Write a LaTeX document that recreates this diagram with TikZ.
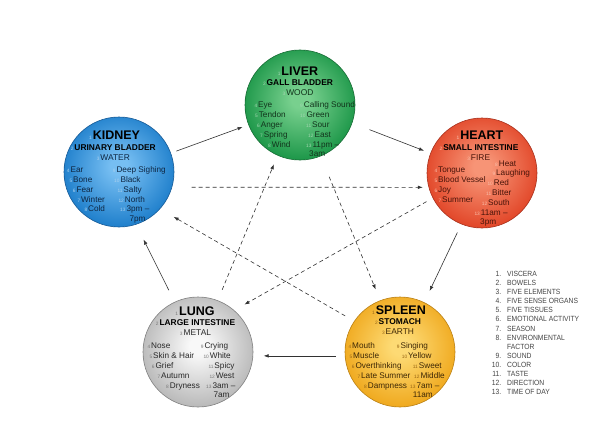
\documentclass[tikz,border=0pt]{standalone}
\usepackage{fontspec}
\setmainfont{Liberation Sans}
\newfontfamily\legendfont[FakeStretch=0.9]{Liberation Sans}
\usetikzlibrary{arrows.meta}

\definecolor{liverin}{RGB}{120,208,142}
\definecolor{liverout}{RGB}{30,152,74}
\definecolor{liverline}{RGB}{22,108,52}
\definecolor{livernum}{RGB}{165,215,178}
\definecolor{liveritem}{RGB}{18,52,28}
\definecolor{kidneyin}{RGB}{118,190,242}
\definecolor{kidneyout}{RGB}{32,128,204}
\definecolor{kidneyline}{RGB}{22,90,150}
\definecolor{kidneynum}{RGB}{170,208,238}
\definecolor{kidneyitem}{RGB}{14,38,66}
\definecolor{heartin}{RGB}{247,148,118}
\definecolor{heartout}{RGB}{226,72,42}
\definecolor{heartline}{RGB}{168,48,28}
\definecolor{heartnum}{RGB}{250,192,172}
\definecolor{heartitem}{RGB}{72,20,10}
\definecolor{lungin}{RGB}{248,248,248}
\definecolor{lungout}{RGB}{186,186,186}
\definecolor{lungline}{RGB}{128,128,128}
\definecolor{lungnum}{RGB}{120,120,120}
\definecolor{lungitem}{RGB}{40,40,40}
\definecolor{spleenin}{RGB}{253,218,116}
\definecolor{spleenout}{RGB}{240,170,32}
\definecolor{spleenline}{RGB}{186,128,20}
\definecolor{spleennum}{RGB}{150,100,20}
\definecolor{spleenitem}{RGB}{62,40,6}
\definecolor{arrowc}{RGB}{50,50,50}
\definecolor{keyc}{RGB}{70,70,70}

\colorlet{sphin}{white}
\colorlet{sphout}{gray}
\colorlet{numc}{gray}
\colorlet{itemc}{black}
\pgfdeclareradialshading[sphin,sphout]{softball}{\pgfpoint{0bp}{3bp}}{%
  color(0bp)=(sphin); color(4bp)=(sphin); color(26bp)=(sphout); color(50bp)=(sphout)}

\newcommand{\nr}[1]{{\fontsize{4.8}{5}\selectfont\mdseries\textcolor{numc}{#1}}\hspace{1pt}}

\begin{document}
\begin{tikzpicture}[x=1pt,y=-1pt,
    organ/.style={circle, minimum size=110pt, inner sep=0pt, line width=0.6pt,
      draw=#1line, shade, shading=softball,
      /utils/exec={\colorlet{sphin}{#1in}\colorlet{sphout}{#1out}}},
    orgtitle/.style={anchor=base, inner sep=0pt, font=\fontsize{12.5}{14}\selectfont\bfseries},
    orgsub/.style={anchor=base, inner sep=0pt, font=\fontsize{8.4}{10}\selectfont\bfseries},
    orgelem/.style={anchor=base, inner sep=0pt, text=itemc, font=\fontsize{8.4}{10}\selectfont},
    orgitem/.style={anchor=base west, inner sep=0pt, text=itemc, font=\fontsize{8.2}{10}\selectfont},
    keyline/.style={anchor=base west, inner sep=0pt, text=keyc, font=\legendfont\fontsize{7.5}{9}\selectfont},
    gen/.style={draw=arrowc, line width=0.6pt, -{Latex[length=5pt,width=3.6pt]}},
    ctrl/.style={gen, dash pattern=on 4pt off 3pt}]

  \fill[white] (0,0) rectangle (600,436);

  \node[organ=kidney] (kidney) at (119,172) {};
  \node[organ=liver]  (liver)  at (300,105) {};
  \node[organ=heart]  (heart)  at (482,173) {};
  \node[organ=lung]   (lung)   at (198,352) {};
  \node[organ=spleen] (spleen) at (400,352) {};

  \draw[gen, shorten <=5.8pt, shorten >=6.1pt]   (kidney.20.3)  -- (liver.201.2);
  \draw[gen, shorten <=18.4pt, shorten >=6.8pt]  (liver.-19.7)  -- (heart.159.1);
  \draw[gen, shorten <=9.1pt, shorten >=12.5pt]  (heart.-112.6) -- (spleen.64.6);
  \draw[gen, shorten <=9.2pt, shorten >=10.5pt]  (spleen.184.2) -- (lung.-4.2);
  \draw[gen, shorten <=13.1pt, shorten >=16.7pt] (lung.115.9)   -- (kidney.-72);

  \draw[ctrl, shorten <=19.4pt, shorten >=5.8pt]  (kidney.-16.9) -- (heart.195.8);
  \draw[ctrl, shorten <=7.2pt, shorten >=11.7pt]  (heart.207.6)  -- (lung.49.4);
  \draw[ctrl, shorten <=11.5pt, shorten >=9.5pt]  (lung.69.1)    -- (liver.-114);
  \draw[ctrl, shorten <=22.1pt, shorten >=11.8pt] (liver.-68.8)  -- (spleen.111.9);
  \draw[ctrl, shorten <=10.4pt, shorten >=15.6pt] (spleen.146.8) -- (kidney.-42.6);

  \begin{scope}
    \colorlet{numc}{livernum}\colorlet{itemc}{liveritem}
    \node[orgtitle] (liver1) at (298,75.7) {\nr{1}LIVER};
    \node[orgsub]   (liver2) at (298,85.3) {\nr{2}GALL BLADDER};
    \node[orgelem]  (liver3) at (298,95.7) {\nr{3}WOOD};
    \node[orgitem] (liver4)  at (254.3,107.3) {\nr{4}Eye};
    \node[orgitem] (liver5)  at (255,117.3)   {\nr{5}Tendon};
    \node[orgitem] (liver6)  at (257,127)     {\nr{6}Anger};
    \node[orgitem] (liver7)  at (260,137.3)   {\nr{7}Spring};
    \node[orgitem] (liver8)  at (268,147.3)   {\nr{8}Wind};
    \node[orgitem] (liver9)  at (300,107.3)   {\nr{9}Calling Sound};
    \node[orgitem] (liver10) at (300,117.3)   {\nr{10}Green};
    \node[orgitem] (liver11) at (306,127)     {\nr{11}Sour};
    \node[orgitem] (liver12) at (308,137.3)   {\nr{12}East};
    \node[orgitem] (liver13) at (306,147.3)   {\nr{13}11pm --};
    \node[orgitem] (liver14) at (309,156.7)   {3am};
  \end{scope}

  \begin{scope}
    \colorlet{numc}{kidneynum}\colorlet{itemc}{kidneyitem}
    \node[orgtitle] (kidney1) at (114.6,139.3) {\nr{1}KIDNEY};
    \node[orgsub]   (kidney2) at (113.3,150)   {\nr{2}URINARY BLADDER};
    \node[orgelem]  (kidney3) at (113.3,160)   {\nr{3}WATER};
    \node[orgitem] (kidney4)  at (66.7,172.7)  {\nr{4}Ear};
    \node[orgitem] (kidney5)  at (69.3,182.3)  {\nr{5}Bone};
    \node[orgitem] (kidney6)  at (72.7,192)    {\nr{6}Fear};
    \node[orgitem] (kidney7)  at (77.3,202)    {\nr{7}Winter};
    \node[orgitem] (kidney8)  at (84.3,211.7)  {\nr{8}Cold};
    \node[orgitem] (kidney9)  at (112.7,172.7) {\nr{9}Deep Sighing};
    \node[orgitem] (kidney10) at (114,182.3)   {\nr{10}Black};
    \node[orgitem] (kidney11) at (117.3,192)   {\nr{11}Salty};
    \node[orgitem] (kidney12) at (118.3,202)   {\nr{12}North};
    \node[orgitem] (kidney13) at (120,211.7)   {\nr{13}3pm --};
    \node[orgitem] (kidney14) at (129.3,221)   {7pm};
  \end{scope}

  \begin{scope}
    \colorlet{numc}{heartnum}\colorlet{itemc}{heartitem}
    \node[orgtitle] (heart1) at (480,139.3) {\nr{1}HEART};
    \node[orgsub]   (heart2) at (479,150)   {\nr{2}SMALL INTESTINE};
    \node[orgelem]  (heart3) at (478.7,160) {\nr{3}FIRE};
    \node[orgitem] (heart4)  at (434.3,172.7) {\nr{4}Tongue};
    \node[orgitem] (heart5)  at (434.3,182.3) {\nr{5}Blood Vessel};
    \node[orgitem] (heart6)  at (434.3,192)   {\nr{6}Joy};
    \node[orgitem] (heart7)  at (438.3,202)   {\nr{7}Summer};
    \node[orgitem] (heart8)  at (495,166)     {\nr{8}Heat};
    \node[orgitem] (heart9)  at (492.3,175.7) {\nr{9}Laughing};
    \node[orgitem] (heart10) at (487.3,185.3) {\nr{10}Red};
    \node[orgitem] (heart11) at (486,195.3)   {\nr{11}Bitter};
    \node[orgitem] (heart12) at (481.7,205.3) {\nr{12}South};
    \node[orgitem] (heart13) at (474.3,215.3) {\nr{13}11am --};
    \node[orgitem] (heart14) at (480,224.7)   {3pm};
  \end{scope}

  \begin{scope}
    \colorlet{numc}{lungnum}\colorlet{itemc}{lungitem}
    \node[orgtitle] (lung1) at (195,315)     {\nr{1}LUNG};
    \node[orgsub]   (lung2) at (195.5,325.7) {\nr{2}LARGE INTESTINE};
    \node[orgelem]  (lung3) at (195.5,335.7) {\nr{3}METAL};
    \node[orgitem] (lung4)  at (147.3,348.3) {\nr{4}Nose};
    \node[orgitem] (lung5)  at (149.3,358.3) {\nr{5}Skin \& Hair};
    \node[orgitem] (lung6)  at (151.7,368.3) {\nr{6}Grief};
    \node[orgitem] (lung7)  at (157.3,378.3) {\nr{7}Autumn};
    \node[orgitem] (lung8)  at (166,388.3)   {\nr{8}Dryness};
    \node[orgitem] (lung9)  at (200.7,348.3) {\nr{9}Crying};
    \node[orgitem] (lung10) at (203.3,358.3) {\nr{10}White};
    \node[orgitem] (lung11) at (208.3,368.3) {\nr{11}Spicy};
    \node[orgitem] (lung12) at (209.3,378.3) {\nr{12}West};
    \node[orgitem] (lung13) at (206,388.3)   {\nr{13}3am --};
    \node[orgitem] (lung14) at (213.3,397.7) {7am};
  \end{scope}

  \begin{scope}
    \colorlet{numc}{spleennum}\colorlet{itemc}{spleenitem}
    \node[orgtitle] (spleen1) at (399,314)   {\nr{1}SPLEEN};
    \node[orgsub]   (spleen2) at (398,324.3) {\nr{2}STOMACH};
    \node[orgelem]  (spleen3) at (398,334.3) {\nr{3}EARTH};
    \node[orgitem] (spleen4)  at (348.3,348.3) {\nr{4}Mouth};
    \node[orgitem] (spleen5)  at (349.3,358.3) {\nr{5}Muscle};
    \node[orgitem] (spleen6)  at (351.7,368.3) {\nr{6}Overthinking};
    \node[orgitem] (spleen7)  at (357.3,378.3) {\nr{7}Late Summer};
    \node[orgitem] (spleen8)  at (364,388.3)   {\nr{8}Dampness};
    \node[orgitem] (spleen9)  at (396.7,348.3) {\nr{9}Singing};
    \node[orgitem] (spleen10) at (401.7,358.3) {\nr{10}Yellow};
    \node[orgitem] (spleen11) at (412.7,368.3) {\nr{11}Sweet};
    \node[orgitem] (spleen12) at (414,378.3)   {\nr{12}Middle};
    \node[orgitem] (spleen13) at (410,388.3)   {\nr{13}7am --};
    \node[orgitem] (spleen14) at (412.7,397.7) {11am};
  \end{scope}

  \node[keyline] (key1)  at (493,276.7) {\makebox[8pt][r]{1.}\hspace{6pt}VISCERA};
  \node[keyline] (key2)  at (493,285.7) {\makebox[8pt][r]{2.}\hspace{6pt}BOWELS};
  \node[keyline] (key3)  at (493,294.8) {\makebox[8pt][r]{3.}\hspace{6pt}FIVE ELEMENTS};
  \node[keyline] (key4)  at (493,303.8) {\makebox[8pt][r]{4.}\hspace{6pt}FIVE SENSE ORGANS};
  \node[keyline] (key5)  at (493,312.9) {\makebox[8pt][r]{5.}\hspace{6pt}FIVE TISSUES};
  \node[keyline] (key6)  at (493,321.9) {\makebox[8pt][r]{6.}\hspace{6pt}EMOTIONAL ACTIVITY};
  \node[keyline] (key7)  at (493,331)   {\makebox[8pt][r]{7.}\hspace{6pt}SEASON};
  \node[keyline] (key8)  at (493,340)   {\makebox[8pt][r]{8.}\hspace{6pt}ENVIRONMENTAL};
  \node[keyline] (key8b) at (507,349.1) {FACTOR};
  \node[keyline] (key9)  at (493,358.1) {\makebox[8pt][r]{9.}\hspace{6pt}SOUND};
  \node[keyline] (key10) at (493,367.2) {\makebox[8pt][r]{10.}\hspace{6pt}COLOR};
  \node[keyline] (key11) at (493,376.2) {\makebox[8pt][r]{11.}\hspace{6pt}TASTE};
  \node[keyline] (key12) at (493,385.3) {\makebox[8pt][r]{12.}\hspace{6pt}DIRECTION};
  \node[keyline] (key13) at (493,394.3) {\makebox[8pt][r]{13.}\hspace{6pt}TIME OF DAY};

\end{tikzpicture}
\end{document}
